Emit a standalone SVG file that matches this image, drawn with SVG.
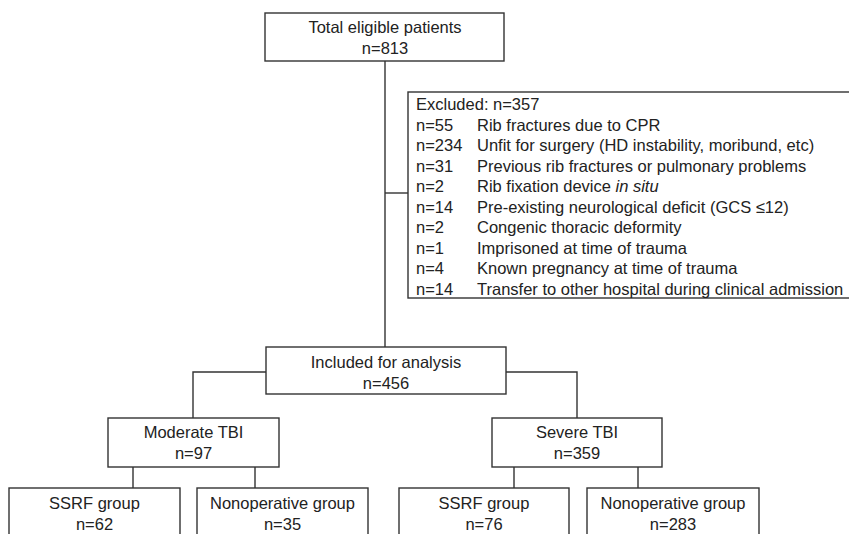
<svg xmlns="http://www.w3.org/2000/svg" width="849" height="534" viewBox="0 0 849 534">
<style>
.box{fill:#fff;stroke:#333;stroke-width:1.4}
.ln{fill:none;stroke:#333;stroke-width:1.4}
text{font-family:"Liberation Sans",Arial,sans-serif;font-size:16.5px;fill:#222}
.c{text-anchor:middle}
</style>
<rect width="849" height="534" fill="#fff"/>
<g id="connectors">
<path class="ln" d="M385 61V347"/>
<path class="ln" d="M385 193H408"/>
<path class="ln" d="M266 372H193V418"/>
<path class="ln" d="M506 372H577V418"/>
<path class="ln" d="M133 467V488M255 467V488"/>
<path class="ln" d="M514 467V488M638 467V488"/>
</g>
<g id="total">
<rect class="box" x="265" y="13" width="239" height="48"/>
<text class="c" x="385" y="33">Total eligible patients</text>
<text class="c" x="385" y="54">n=813</text>
</g>
<g id="excluded">
<rect class="box" x="408" y="92" width="460" height="206"/>
<text x="416" y="110">Excluded: n=357</text>
<text x="416" y="130.5">n=55</text><text x="477" y="130.5">Rib fractures due to CPR</text>
<text x="416" y="151">n=234</text><text x="477" y="151">Unfit for surgery (HD instability, moribund, etc)</text>
<text x="416" y="171.5">n=31</text><text x="477" y="171.5">Previous rib fractures or pulmonary problems</text>
<text x="416" y="192">n=2</text><text x="477" y="192">Rib fixation device <tspan font-style="italic">in situ</tspan></text>
<text x="416" y="212.5">n=14</text><text x="477" y="212.5">Pre-existing neurological deficit (GCS ≤12)</text>
<text x="416" y="233">n=2</text><text x="477" y="233">Congenic thoracic deformity</text>
<text x="416" y="253.5">n=1</text><text x="477" y="253.5">Imprisoned at time of trauma</text>
<text x="416" y="274">n=4</text><text x="477" y="274">Known pregnancy at time of trauma</text>
<text x="416" y="294.5">n=14</text><text x="477" y="294.5">Transfer to other hospital during clinical admission</text>
</g>
<g id="included">
<rect class="box" x="266" y="347" width="240" height="47"/>
<text class="c" x="386" y="368">Included for analysis</text>
<text class="c" x="386" y="389">n=456</text>
</g>
<g id="moderate">
<rect class="box" x="108" y="418" width="171" height="49"/>
<text class="c" x="193.5" y="438">Moderate TBI</text>
<text class="c" x="193.5" y="459">n=97</text>
</g>
<g id="severe">
<rect class="box" x="492" y="418" width="170" height="49"/>
<text class="c" x="577" y="438">Severe TBI</text>
<text class="c" x="577" y="459">n=359</text>
</g>
<g id="ssrf-mod">
<rect class="box" x="9" y="488" width="171" height="60"/>
<text class="c" x="94.5" y="509">SSRF group</text>
<text class="c" x="94.5" y="530">n=62</text>
</g>
<g id="nonop-mod">
<rect class="box" x="197" y="488" width="171" height="60"/>
<text class="c" x="282.5" y="509">Nonoperative group</text>
<text class="c" x="282.5" y="530">n=35</text>
</g>
<g id="ssrf-sev">
<rect class="box" x="399" y="488" width="170" height="60"/>
<text class="c" x="484" y="509">SSRF group</text>
<text class="c" x="484" y="530">n=76</text>
</g>
<g id="nonop-sev">
<rect class="box" x="587" y="488" width="172" height="60"/>
<text class="c" x="673" y="509">Nonoperative group</text>
<text class="c" x="673" y="530">n=283</text>
</g>
</svg>
